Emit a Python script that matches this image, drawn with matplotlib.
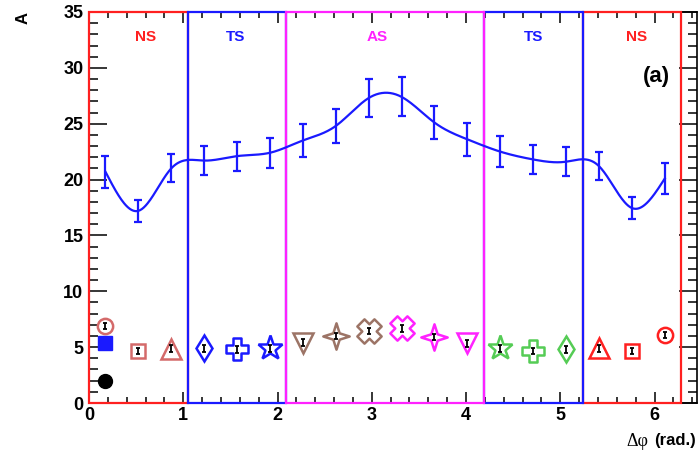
import numpy as np
import matplotlib
matplotlib.use("Agg")
import matplotlib.pyplot as plt
from matplotlib.path import Path
from matplotlib.patches import Rectangle
from matplotlib.ticker import MultipleLocator

plt.rcParams['font.family'] = ['Liberation Sans', 'DejaVu Sans']

# --- data -------------------------------------------------------------
nbins = 18
dphi = (np.arange(nbins) + 0.5) * 2 * np.pi / nbins

amp = [20.7, 17.2, 21.0, 21.7, 22.1, 22.4, 23.5, 24.8, 27.3,
       27.4, 25.1, 23.6, 22.5, 21.8, 21.6, 21.2, 17.45, 20.1]
amp_err = [1.45, 1.0, 1.25, 1.3, 1.3, 1.35, 1.45, 1.5, 1.7,
           1.75, 1.5, 1.45, 1.4, 1.3, 1.3, 1.25, 1.0, 1.35]

low = [6.9, 4.65, 4.85, 4.9, 4.8, 4.9, 5.4, 6.0, 6.45,
       6.7, 5.9, 5.35, 4.9, 4.65, 4.8, 4.9, 4.65, 6.1]
low_err = 0.3

ref_square = 5.4
ref_dot = 2.0

regions = ["NS", "TS", "AS", "TS", "NS"]
region_edges = [0, np.pi / 3, 2 * np.pi / 3, 4 * np.pi / 3, 5 * np.pi / 3, 2 * np.pi]
region_colors = ["#ff2020", "#1a1aff", "#ff22ff", "#1a1aff", "#ff2020"]
region_label_x = [0.60, 1.55, 3.06, 4.72, 5.81]

# --- marker shapes ----------------------------------------------------
t = 0.34
plus_open = Path([(-t, 1), (t, 1), (t, t), (1, t), (1, -t), (t, -t), (t, -1),
                  (-t, -1), (-t, -t), (-1, -t), (-1, t), (-t, t), (-t, 1)],
                 closed=True)
c, s = np.cos(np.pi / 4), np.sin(np.pi / 4)
tx = 0.42
xv = [(-tx, 1), (tx, 1), (tx, tx), (1, tx), (1, -tx), (tx, -tx), (tx, -1),
      (-tx, -1), (-tx, -tx), (-1, -tx), (-1, tx), (-tx, tx), (-tx, 1)]
x_open = Path([(x * c - y * s, x * s + y * c) for x, y in xv], closed=True)
q = 0.24
star4 = Path([(0, 1), (q, q), (1, 0), (q, -q), (0, -1), (-q, -q), (-1, 0),
              (-q, q), (0, 1)], closed=True)

pink = "#d46a6a"
brown = "#9c7466"
green = "#55cc55"
blue = "#1a1aff"
mag = "#ff22ff"
red = "#ff2020"

styles = [
    ('o', pink, 11), ('s', pink, 10), ('^', pink, 14.5),
    ('d', blue, 13.5), (plus_open, blue, 15.5), ('*', blue, 18.5),
    ('v', brown, 14.5), (star4, brown, 19), (x_open, brown, 17.5),
    (x_open, mag, 17.5), (star4, mag, 19), ('v', mag, 14.5),
    ('*', green, 18.5), (plus_open, green, 15.5), ('d', green, 13.5),
    ('^', red, 14.5), ('s', red, 10), ('o', red, 11),
]


def natural_spline(x, y, xs):
    x = np.asarray(x, float)
    y = np.asarray(y, float)
    n = len(x)
    h = np.diff(x)
    A = np.zeros((n, n))
    b = np.zeros(n)
    A[0, 0] = A[-1, -1] = 1
    for i in range(1, n - 1):
        A[i, i - 1] = h[i - 1]
        A[i, i] = 2 * (h[i - 1] + h[i])
        A[i, i + 1] = h[i]
        b[i] = 6 * ((y[i + 1] - y[i]) / h[i] - (y[i] - y[i - 1]) / h[i - 1])
    M = np.linalg.solve(A, b)
    idx = np.clip(np.searchsorted(x, xs) - 1, 0, n - 2)
    x0, x1 = x[idx], x[idx + 1]
    hh = x1 - x0
    a = (x1 - xs) / hh
    bb = (xs - x0) / hh
    return (a * y[idx] + bb * y[idx + 1]
            + ((a ** 3 - a) * M[idx] + (bb ** 3 - bb) * M[idx + 1]) * hh ** 2 / 6)


# --- figure -----------------------------------------------------------
fig = plt.figure(figsize=(6.98, 4.58), dpi=100)
W, H = 698, 458
ax = fig.add_axes([89 / W, (H - 403) / H, (697 - 89) / W, (403 - 12) / H])
ax.set_xlim(0, 6.45)
ax.set_ylim(0, 35)

ax.xaxis.set_major_locator(MultipleLocator(1))
ax.xaxis.set_minor_locator(MultipleLocator(0.2))
ax.yaxis.set_major_locator(MultipleLocator(5))
ax.yaxis.set_minor_locator(MultipleLocator(1))
ax.tick_params(which='both', direction='in', top=True, right=True,
               width=1.1, labelsize=13)
ax.tick_params(axis='x', which='major', length=8, pad=3)
ax.tick_params(axis='x', which='minor', length=4.3)
ax.tick_params(axis='y', which='major', length=13, pad=4)
ax.tick_params(axis='y', which='minor', length=6.5)
for lab in ax.get_xticklabels() + ax.get_yticklabels():
    lab.set_fontweight('bold')
for sp in ax.spines.values():
    sp.set_linewidth(1.2)

# region boxes
for i in range(len(regions)):
    x0, x1 = region_edges[i], region_edges[i + 1]
    ax.add_patch(Rectangle((x0, 0), x1 - x0, 35, fill=False,
                           edgecolor=region_colors[i], lw=1.6,
                           clip_on=False, zorder=3 + (i % 2) * 0.1 + (i == 2) * 0.2))
    ax.text(region_label_x[i], 32.8, regions[i], color=region_colors[i],
            fontsize=11, fontweight='bold', ha='center', va='center')

# smooth curve with error bars
xs = np.linspace(dphi[0], dphi[-1], 600)
ax.plot(xs, natural_spline(dphi, amp, xs), color=blue, lw=1.6, zorder=4)
ax.errorbar(dphi, amp, yerr=amp_err, fmt='none', ecolor=blue, elinewidth=1.6,
            capsize=2.7, capthick=1.6, zorder=4)

# low points with individual markers
for xi, yi, (m, col, ms) in zip(dphi, low, styles):
    ax.plot([xi], [yi], marker=m, ms=ms, mfc='none', mec=col, mew=1.8,
            ls='none', zorder=5)
ax.errorbar(dphi, low, yerr=low_err, fmt='none', ecolor='black',
            elinewidth=1.3, capsize=1.7, capthick=1.3, zorder=6)

ax.plot([dphi[0]], [ref_square], marker='s', ms=9.5, color=blue, ls='none', zorder=5)
ax.plot([dphi[0]], [ref_dot], marker='o', ms=10, color='black', ls='none', zorder=5)

ax.text(6.02, 29.2, "(a)", fontsize=16, fontweight='bold', ha='center',
        va='center', color='black')

fig.text(23 / W, 1 - 18.5 / H, "A", rotation=90, fontsize=12, fontweight='bold',
         ha='center', va='center')
fig.text(626 / W, 1 - 441 / H, "Δφ", fontsize=13, family='Liberation Serif',
         ha='left', va='center')
fig.text(696 / W, 1 - 441 / H, "(rad.)", fontsize=12, fontweight='bold',
         ha='right', va='center')

fig.savefig("out.png", dpi=100)
